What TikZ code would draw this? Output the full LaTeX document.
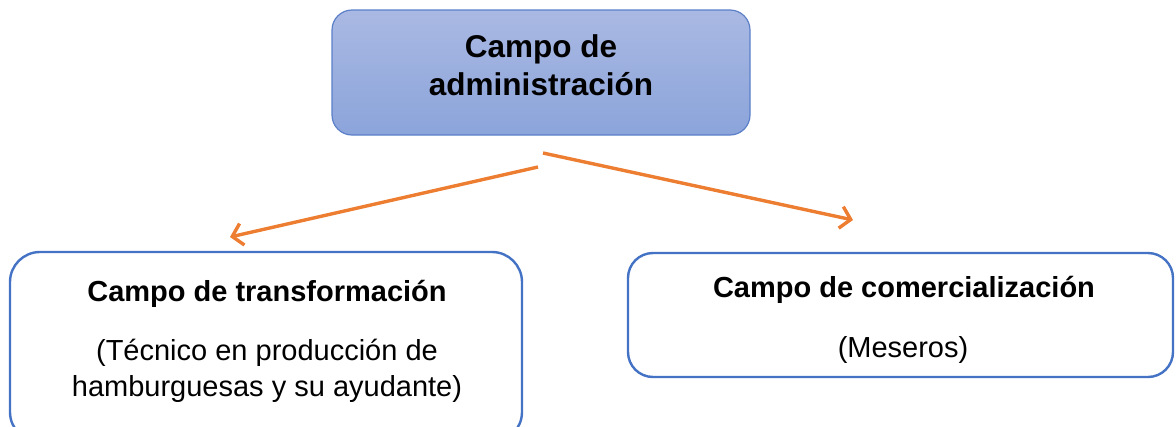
\documentclass[tikz,border=0pt]{standalone}
\usepackage{fontspec}
\setmainfont{Liberation Sans}
\usetikzlibrary{arrows.meta}
\definecolor{boxblue}{HTML}{4472C4}
\definecolor{topborder}{HTML}{5B7FC8}
\definecolor{arrorange}{HTML}{ED7D31}
\definecolor{topfill}{HTML}{AAB9E3}
\definecolor{botfill}{HTML}{8BA4DA}
\begin{document}
\begin{tikzpicture}[x=1pt,y=-1pt,
  topbox/.style={draw=topborder, line width=1.2pt, rounded corners=20pt, top color=topfill, bottom color=botfill, inner sep=0pt},
  subbox/.style={draw=boxblue, line width=2.4pt, fill=white, inner sep=0pt},
  boldtxt/.style={anchor=base, inner sep=0pt, font=\bfseries\fontsize{29}{35}\selectfont},
  toptxt/.style={anchor=base, inner sep=0pt, font=\bfseries\fontsize{31.5}{38}\selectfont},
  regtxt/.style={anchor=base, inner sep=0pt, font=\fontsize{29}{35}\selectfont},
  link/.style={draw=arrorange, line width=3.4pt, -{Straight Barb[length=10pt,width=22pt,line width=3.4pt]}}
]
\useasboundingbox (0,0) rectangle (1176,426);
\node[topbox, minimum width=418pt, minimum height=125pt] (admin) at (541,72.5) {};
\node[subbox, rounded corners=30pt, minimum width=512pt, minimum height=190pt] (trans) at (266,347) {};
\node[subbox, rounded corners=25pt, minimum width=545pt, minimum height=124pt] (comer) at (900.5,315) {};

\node[toptxt] (a1) at (541,57) {Campo de};
\node[toptxt] (a2) at (541,95) {administración};

\node[boldtxt] (t1) at (267,301) {Campo de transformación};
\node[regtxt] (t2) at (267,360) {(Técnico en producción de};
\node[regtxt] (t3) at (267,396) {hamburguesas y su ayudante)};

\node[boldtxt] (c1) at (904,297) {Campo de comercialización};
\node[regtxt] (c2) at (903,357) {(Meseros)};

\coordinate (ls) at (538,167);
\coordinate (le) at (230,237);
\coordinate (rs) at (543,153);
\coordinate (re) at (853,220);
\draw[link] (ls) -- (le);
\draw[link] (rs) -- (re);
\end{tikzpicture}
\end{document}
